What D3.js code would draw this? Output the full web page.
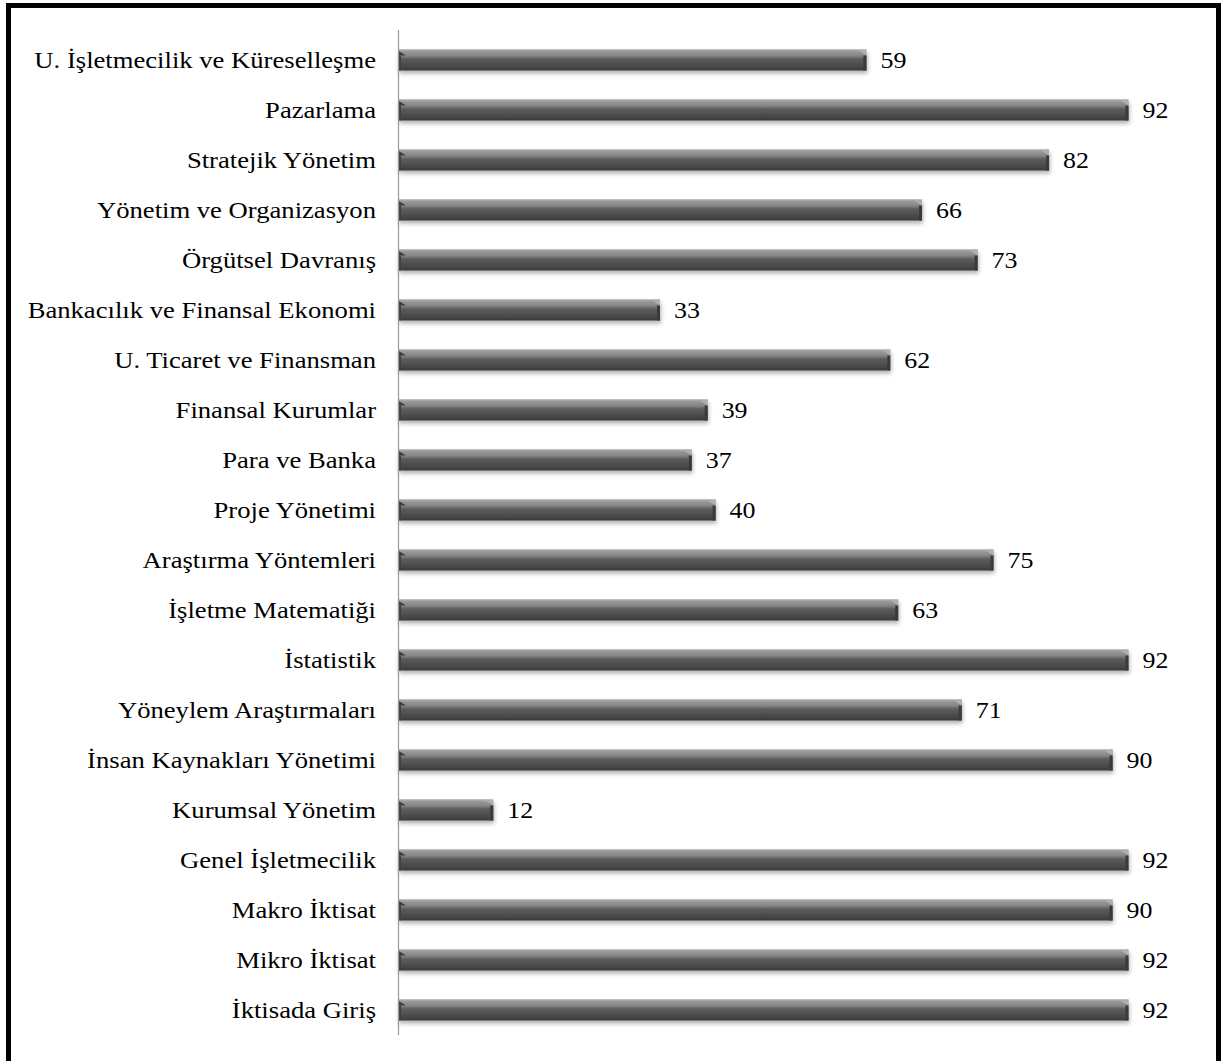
<!DOCTYPE html>
<html><head><meta charset="utf-8">
<script src="https://cdn.jsdelivr.net/npm/d3@7"></script>
<style>body{margin:0;background:#fff;}svg{display:block;}</style>
</head><body>
<script>
const categories = ["U. İşletmecilik ve Küreselleşme","Pazarlama","Stratejik Yönetim","Yönetim ve Organizasyon","Örgütsel Davranış","Bankacılık ve Finansal Ekonomi","U. Ticaret ve Finansman","Finansal Kurumlar","Para ve Banka","Proje Yönetimi","Araştırma Yöntemleri","İşletme Matematiği","İstatistik","Yöneylem Araştırmaları","İnsan Kaynakları Yönetimi","Kurumsal Yönetim","Genel İşletmecilik","Makro İktisat","Mikro İktisat","İktisada Giriş"];
const values = [59,92,82,66,73,33,62,39,37,40,75,63,92,71,90,12,92,90,92,92];

const W = 1221, H = 1061;
const FONT = "'Liberation Serif', 'Times New Roman', serif";
const svg = d3.select("body").append("svg").attr("width", W).attr("height", H);
const defs = svg.append("defs");
const g1 = defs.append("linearGradient").attr("id","barg").attr("x1",0).attr("y1",0).attr("x2",0).attr("y2",1);
[[0,"#b4b4b4"],[0.08,"#9a9a9a"],[0.3,"#858585"],[0.45,"#5c5c5c"],[0.75,"#4c4c4c"],[1,"#3a3a3a"]].forEach(([o,c])=>g1.append("stop").attr("offset",o).attr("stop-color",c));
const f = defs.append("filter").attr("id","sh").attr("x","-5%").attr("y","-50%").attr("width","110%").attr("height","220%");
f.append("feDropShadow").attr("dx",1).attr("dy",3).attr("stdDeviation",2).attr("flood-color","#000").attr("flood-opacity",0.3);

svg.append("rect").attr("x",8.5).attr("y",5.5).attr("width",1210).attr("height",1100)
  .attr("fill","none").attr("stroke","#000").attr("stroke-width",5);

const x = d3.scaleLinear().domain([0,100]).range([398, 1192]);
const y = d3.scaleBand().domain(categories).range([35,1035]).paddingInner(0.58).paddingOuter(0.29);
const bh = 21;

const rows = svg.append("g").selectAll("g").data(categories).join("g")
  .attr("transform", d => `translate(0,${y(d)+y.bandwidth()/2})`);

rows.each(function(d,i){
  const gg = d3.select(this);
  const x0 = x(0), x1 = x(values[i]);
  gg.append("rect").attr("x",x0).attr("y",-bh/2).attr("width",x1-x0).attr("height",bh)
    .attr("fill","url(#barg)").attr("filter","url(#sh)");
  gg.append("line").attr("x1",x0).attr("x2",x1).attr("y1",-bh/2+0.5).attr("y2",-bh/2+0.5).attr("stroke","#a8a8a8");
  gg.append("path").attr("d",`M${x0},${-bh/2+1}L${x0+8},${-bh/2+6}L${x0},${-bh/2+6}Z`).attr("fill","#3c3c3c");
  gg.append("rect").attr("x",x0).attr("y",-bh/2+6).attr("width",3).attr("height",bh-6).attr("fill","#404040");
  gg.append("path").attr("d",`M${x1-8},${-bh/2+1}L${x1},${-bh/2+1}L${x1},${-bh/2+6}Z`).attr("fill","#b0b0b0");
  gg.append("rect").attr("x",x1-3).attr("y",-bh/2+6).attr("width",3).attr("height",bh-6).attr("fill","#3a3a3a");
  gg.append("text").attr("transform",`translate(${x1+14},0) scale(1.08,1)`).attr("dy","0.35em")
    .attr("font-family",FONT).attr("font-size",24).attr("fill","#000")
    .text(values[i]);
  gg.append("text").attr("transform",`translate(376,0) scale(1.11,1)`).attr("dy","0.35em").attr("text-anchor","end")
    .attr("font-family",FONT).attr("font-size",24).attr("fill","#000")
    .text(d);
});

svg.append("line").attr("x1",398.5).attr("x2",398.5).attr("y1",30).attr("y2",1035).attr("stroke","#999").attr("stroke-width",1.2);
</script>
</body></html>
